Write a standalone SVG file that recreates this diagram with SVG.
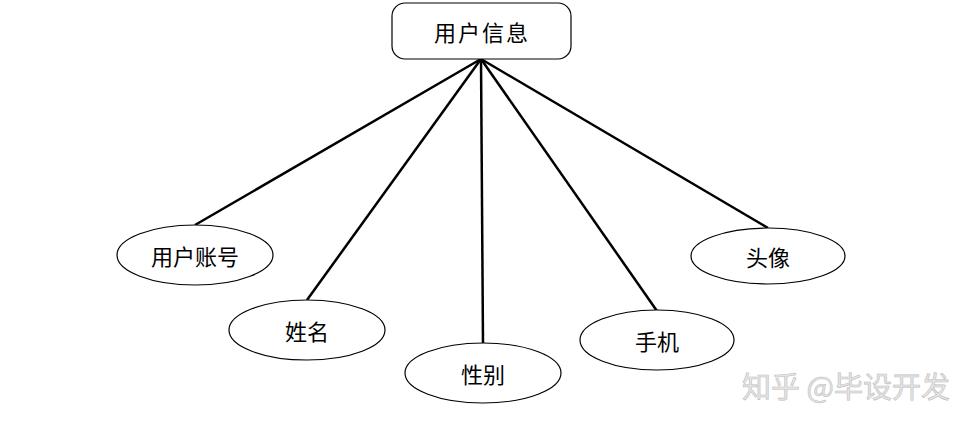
<svg xmlns="http://www.w3.org/2000/svg" width="978" height="429" viewBox="0 0 978 429">
<style>
.n{fill:#fff;stroke:#000;stroke-width:1.2}
.t{font-family:"Noto Sans CJK SC","Liberation Sans",sans-serif;font-size:22px;fill:#000;text-anchor:middle;dominant-baseline:central}
.c{stroke:#000;stroke-width:2.5;fill:none}
.w{font-family:"Noto Sans CJK SC",sans-serif;font-size:29px;fill:#e6e6e6;stroke:#bdbdbd;stroke-width:0.6}
</style>
<rect width="978" height="429" fill="#fff"/>
<g id="connectors">
<line class="c" x1="481" y1="59" x2="195" y2="225"/>
<line class="c" x1="481" y1="59" x2="307" y2="300"/>
<line class="c" x1="481" y1="59" x2="483" y2="344"/>
<line class="c" x1="481" y1="59" x2="657" y2="311"/>
<line class="c" x1="481" y1="59" x2="768" y2="228"/>
</g>
<g id="user-info">
<rect class="n" x="392" y="3" width="179" height="56" rx="13"/>
<text class="t" x="482" y="31" font-size="23" letter-spacing="2">用户信息</text>
</g>
<g id="account">
<ellipse class="n" cx="195" cy="255" rx="78" ry="30"/>
<text class="t" x="195" y="255">用户账号</text>
</g>
<g id="name">
<ellipse class="n" cx="307" cy="330" rx="78" ry="30"/>
<text class="t" x="307" y="330">姓名</text>
</g>
<g id="gender">
<ellipse class="n" cx="483" cy="373" rx="78" ry="30"/>
<text class="t" x="483" y="373">性别</text>
</g>
<g id="phone">
<ellipse class="n" cx="657" cy="340" rx="77" ry="30"/>
<text class="t" x="657" y="340">手机</text>
</g>
<g id="avatar">
<ellipse class="n" cx="768" cy="256" rx="77" ry="28"/>
<text class="t" x="768" y="256">头像</text>
</g>
<text class="w" x="742" y="398">知乎 @毕设开发</text>
</svg>
